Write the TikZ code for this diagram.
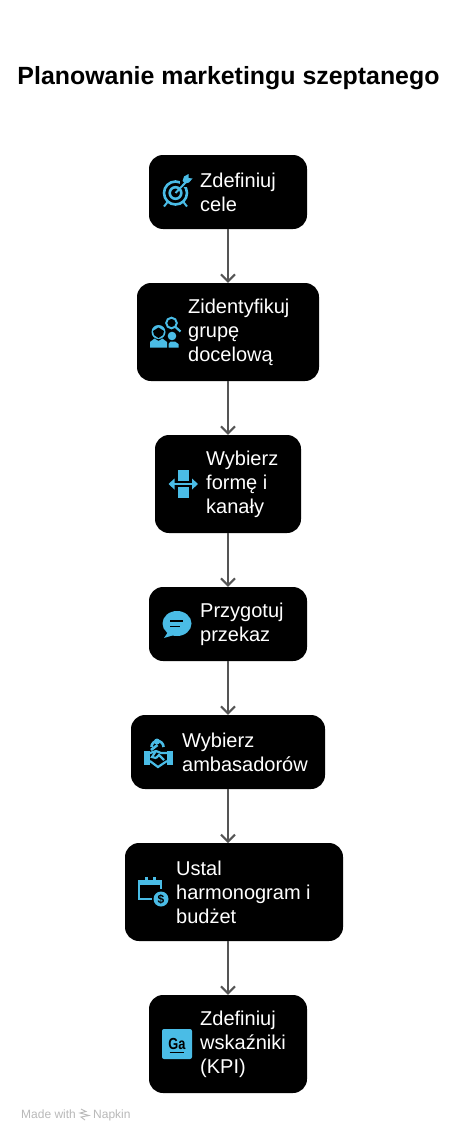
\documentclass[tikz,border=0pt]{standalone}
\usepackage{fontspec}
\setmainfont{Liberation Sans}
\usetikzlibrary{arrows.meta}
\definecolor{iconblue}{HTML}{4ABCE6}
\definecolor{lineg}{HTML}{555555}

\begin{document}
\begin{tikzpicture}[x=1pt,y=-1pt]
            \tikzset{bkbox/.style = {rectangle, fill=black, draw=none, rounded corners=14pt, inner sep=0pt}}
            \tikzset{steptext/.style = {anchor=west, inner sep=0pt, align=left, text=white, font=\fontsize{20}{24}\selectfont}}
            \tikzset{conn/.style = {draw=lineg, line width=2pt, -{Straight Barb[length=7pt,width=14pt,line width=2pt]}}}
            \tikzset{icline/.style = {draw=iconblue, line width=2.6pt}}
            \tikzset{icfill/.style = {fill=iconblue}}
            \tikzset{credit/.style = {anchor=base west, inner sep=0pt, text=gray!55, font=\fontsize{12}{13}\selectfont}}
            \useasboundingbox (0,0) rectangle (456,1140);
            \fill[white] (0,0) rectangle (456,1140);

            \node[anchor=center, inner sep=0pt, font=\bfseries\fontsize{24.9}{28}\selectfont] (title) at (228.5,78) {Planowanie marketingu szeptanego};

            \node[bkbox, minimum width=158pt, minimum height=74pt] (cele) at (228,192) {};
            \node[bkbox, minimum width=182pt, minimum height=98pt] (grupa) at (228,332) {};
            \node[bkbox, minimum width=146pt, minimum height=98pt] (forma) at (228,484) {};
            \node[bkbox, minimum width=158pt, minimum height=74pt] (przekaz) at (228,624) {};
            \node[bkbox, minimum width=194pt, minimum height=74pt] (ambasadorzy) at (228,752) {};
            \node[bkbox, minimum width=218pt, minimum height=98pt] (budzet) at (234,892) {};
            \node[bkbox, minimum width=158pt, minimum height=98pt] (kpi) at (228,1044) {};

            \coordinate (budzettop) at (228,843);
            \coordinate (budzetbot) at (228,941);

            \draw[conn] (cele) -- (grupa);
            \draw[conn] (grupa) -- (forma);
            \draw[conn] (forma) -- (przekaz);
            \draw[conn] (przekaz) -- (ambasadorzy);
            \draw[conn] (ambasadorzy.south) -- (budzettop);
            \draw[conn] (budzetbot) -- (kpi);

            \node[steptext] (celetxt) at (200,192) {Zdefiniuj\\cele};
            \node[steptext] (grupatxt) at (188,332) {Zidentyfikuj\\grupę\\docelową};
            \node[steptext] (formatxt) at (206,484) {Wybierz\\formę i\\kanały};
            \node[steptext] (przekaztxt) at (200,624) {Przygotuj\\przekaz};
            \node[steptext] (ambasadorzytxt) at (182,752) {Wybierz\\ambasadorów};
            \node[steptext] (budzettxt) at (176,892) {Ustal\\harmonogram i\\budżet};
            \node[steptext] (kpitxt) at (200,1044) {Zdefiniuj\\wskaźniki\\(KPI)};

            \draw[icline] (175.5,193) circle (11.5);
            \draw[icline] (175.5,193) circle (5.8);
            \fill[black] (180,176) rectangle (193,187);
            \draw[icline, line width=2pt] (175.5,193) -- (186,182);
            \fill[icfill] (182.5,181) -- (184,176.5) -- (188.5,174) -- (188.5,178) -- (192.5,178.5) -- (189,182.5) -- (185,183.5) -- cycle;
            \draw[icline, line width=2pt] (168,201.5) -- (164,206.5);
            \draw[icline, line width=2pt] (183,201.5) -- (187,206.5);

            \fill[icfill] (150,347.5) -- (150,342) -- (154.5,338.5) -- (158.5,341) -- (162.5,338.5) -- (167,342) -- (167,347.5) -- cycle;
            \fill[icfill] (158.5,332) circle (7);
            \fill[black] (153,331) -- (158.5,327.5) -- (164,331) -- (163,335) -- (158.5,338) -- (154,335) -- cycle;
            \fill[icfill] (172,336) circle (4.3);
            \fill[icfill] (168.5,347.5) -- (168.5,344) -- (170.5,341.5) -- (175,341.5) -- (178.5,344) -- (178.5,347.5) -- cycle;
            \draw[icline, line width=2pt] (171.5,323) circle (5.3);
            \draw[icline, line width=2.2pt] (175.5,327) -- (180.5,331.5);

            \fill[icfill] (177.5,469.5) rectangle (188.5,481);
            \fill[icfill] (177.5,487) rectangle (188.5,498);
            \draw[icline, line width=2.4pt] (172,484) -- (194,484);
            \fill[icfill] (168.5,484) -- (174.5,478.5) -- (174.5,489.5) -- cycle;
            \fill[icfill] (198,484) -- (192,478.5) -- (192,489.5) -- cycle;

            \fill[icfill] (177,623.5) ellipse (14.5 and 12.5);
            \fill[icfill] (168,632) -- (164,638) -- (174,635) -- cycle;
            \draw[black, line width=1.8pt] (170,621) -- (183,621);
            \draw[black, line width=1.8pt] (170,626.5) -- (180,626.5);

            \draw[icline] (151.5,747) arc (180:360:6);
            \draw[icline] (157.5,745) -- (151,750);
            \fill[icfill] (157,741.5) circle (3);
            \fill[icfill] (144,751) rectangle (150,765);
            \fill[icfill] (167,751) rectangle (173,765);
            \draw[icline, line width=2.2pt] (150,753) -- (156,751) -- (161,753) -- (167,753);
            \draw[icline, line width=2.2pt] (150,761) -- (158,767) -- (167,761);
            \draw[icline, line width=2.2pt] (156,758) -- (159,755) -- (164,760);
            \draw[icline, line width=2.2pt] (156,751) -- (152,757) -- (156,758);

            \draw[icline, line width=2.2pt] (154,899) -- (139,899) -- (139,881) -- (161,881) -- (161,889);
            \fill[icfill] (138,879.5) rectangle (162,885);
            \fill[icfill] (144.5,877) rectangle (147.5,884);
            \fill[icfill] (152.5,877) rectangle (155.5,884);
            \fill[black] (161,899) circle (9);
            \fill[icfill] (161,899) circle (7.5);
            \node[inner sep=0pt, font=\bfseries\fontsize{12}{12}\selectfont] (dollar) at (161,899) {\$};

            \fill[icfill, rounded corners=2pt] (162,1029) rectangle (192,1059);
            \node[inner sep=0pt, font=\bfseries\fontsize{16}{16}\selectfont, xscale=0.8] (ga) at (177,1044) {Ga};
            \draw[black, line width=1.4pt] (169.5,1052.5) -- (184,1052.5);

            \node[credit] (made) at (21,1118.5) {Made with};
            \node[credit] (napkin) at (93,1118.5) {Napkin};
            \draw[gray!55, line width=0.9pt] (81,1109) -- (86,1111.5) -- (80,1113) -- (89,1115.5) -- (81,1117) -- (85,1120);
\end{tikzpicture}
\end{document}
